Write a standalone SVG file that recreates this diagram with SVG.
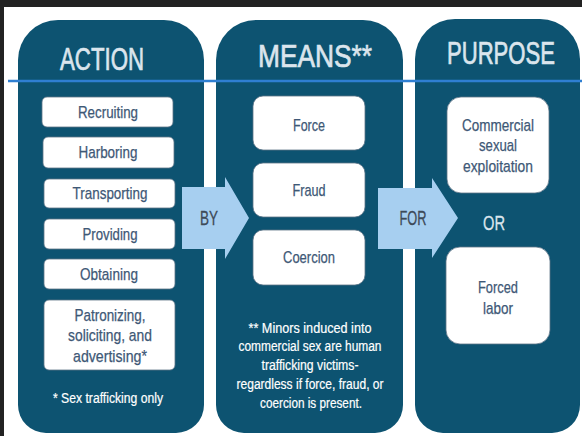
<svg xmlns="http://www.w3.org/2000/svg" width="582" height="436" viewBox="0 0 582 436">
<style>
.col{fill:#0d5371}
.box{fill:#ffffff;stroke:#5d7486;stroke-width:0.8}
.hdr{font-family:"Liberation Sans",Arial,sans-serif;font-size:32px;fill:#dbe5ed;stroke:#dbe5ed;stroke-width:0.7;text-anchor:middle}
.bt{font-family:"Liberation Sans",Arial,sans-serif;font-size:17px;fill:#3e5876;stroke:#3e5876;stroke-width:0.25;text-anchor:middle}
.wt{font-family:"Liberation Sans",Arial,sans-serif;font-size:14px;fill:#ffffff;stroke:#ffffff;stroke-width:0.2;text-anchor:middle}
.arr{fill:#a7cff0}
.at{font-family:"Liberation Sans",Arial,sans-serif;font-size:21px;fill:#3d4a58;stroke:#3d4a58;stroke-width:0.3;text-anchor:middle}
.or{font-family:"Liberation Sans",Arial,sans-serif;font-size:21px;fill:#dbe5ed;stroke:#dbe5ed;stroke-width:0.3;text-anchor:middle}
</style>
<rect x="0" y="0" width="582" height="436" fill="#ffffff"/>
<rect x="0" y="0" width="582" height="7" fill="#222222"/>
<rect x="0" y="0" width="4" height="436" fill="#222222"/>

<g id="col-action">
<path class="col" d="M18,60 A40,40 0 0 1 58,20 H164 A40,40 0 0 1 204,60 V405 A28,28 0 0 1 176,433 H46 A28,28 0 0 1 18,405 Z"/>
<text class="hdr" x="102" y="70" textLength="84" lengthAdjust="spacingAndGlyphs">ACTION</text>
</g>
<g id="col-means">
<path class="col" d="M216,60 A40,40 0 0 1 256,20 H363 A40,40 0 0 1 403,60 V405 A28,28 0 0 1 375,433 H244 A28,28 0 0 1 216,405 Z"/>
<text class="hdr" x="315" y="67" textLength="114" lengthAdjust="spacingAndGlyphs">MEANS**</text>
</g>
<g id="col-purpose">
<path class="col" d="M415,59 A40,40 0 0 1 455,19 H540 A40,40 0 0 1 580,59 V405 A28,28 0 0 1 552,433 H443 A28,28 0 0 1 415,405 Z"/>
<text class="hdr" x="501" y="64" textLength="108" lengthAdjust="spacingAndGlyphs" style="font-size:31px">PURPOSE</text>
</g>

<g id="divider">
<line x1="8" y1="81" x2="582" y2="81" stroke="#2f7fd2" stroke-width="2.5"/>
</g>

<g id="recruiting">
<rect class="box" x="42" y="97" width="131" height="30" rx="5"/>
<text class="bt" x="108" y="118" textLength="60" lengthAdjust="spacingAndGlyphs">Recruiting</text>
</g>
<g id="harboring">
<rect class="box" x="43" y="137" width="131" height="31" rx="5"/>
<text class="bt" x="108" y="158" textLength="59" lengthAdjust="spacingAndGlyphs">Harboring</text>
</g>
<g id="transporting">
<rect class="box" x="44" y="179" width="131" height="29" rx="5"/>
<text class="bt" x="110" y="199" textLength="75" lengthAdjust="spacingAndGlyphs">Transporting</text>
</g>
<g id="providing">
<rect class="box" x="44" y="219" width="131" height="30" rx="5"/>
<text class="bt" x="110" y="240" textLength="55" lengthAdjust="spacingAndGlyphs">Providing</text>
</g>
<g id="obtaining">
<rect class="box" x="44" y="259" width="131" height="30" rx="5"/>
<text class="bt" x="109" y="280" textLength="58" lengthAdjust="spacingAndGlyphs">Obtaining</text>
</g>
<g id="patronizing">
<rect class="box" x="44" y="300" width="131" height="70" rx="5"/>
<text class="bt" x="110" y="321" textLength="71" lengthAdjust="spacingAndGlyphs">Patronizing,</text>
<text class="bt" x="110" y="341" textLength="84" lengthAdjust="spacingAndGlyphs">soliciting, and</text>
<text class="bt" x="110" y="362" textLength="74" lengthAdjust="spacingAndGlyphs">advertising*</text>
</g>
<g id="sex-note">
<text class="wt" x="108" y="403" textLength="110" lengthAdjust="spacingAndGlyphs">* Sex trafficking only</text>
</g>

<g id="force">
<rect class="box" x="253" y="96" width="112" height="54" rx="10"/>
<text class="bt" x="309" y="131" textLength="32" lengthAdjust="spacingAndGlyphs">Force</text>
</g>
<g id="fraud">
<rect class="box" x="253" y="163" width="112" height="54" rx="10"/>
<text class="bt" x="309" y="196" textLength="33" lengthAdjust="spacingAndGlyphs">Fraud</text>
</g>
<g id="coercion">
<rect class="box" x="253" y="230" width="112" height="55" rx="10"/>
<text class="bt" x="309" y="263" textLength="52" lengthAdjust="spacingAndGlyphs">Coercion</text>
</g>
<g id="minors-note">
<text class="wt" x="310" y="333" textLength="123" lengthAdjust="spacingAndGlyphs">** Minors induced into</text>
<text class="wt" x="310" y="351" textLength="143" lengthAdjust="spacingAndGlyphs">commercial sex are human</text>
<text class="wt" x="310" y="370" textLength="97" lengthAdjust="spacingAndGlyphs">trafficking victims-</text>
<text class="wt" x="310" y="389" textLength="147" lengthAdjust="spacingAndGlyphs">regardless if force, fraud, or</text>
<text class="wt" x="311" y="408" textLength="102" lengthAdjust="spacingAndGlyphs">coercion is present.</text>
</g>

<g id="commercial">
<rect class="box" x="447" y="97" width="102" height="96" rx="14"/>
<text class="bt" x="498" y="131" textLength="72" lengthAdjust="spacingAndGlyphs">Commercial</text>
<text class="bt" x="498" y="151" textLength="38" lengthAdjust="spacingAndGlyphs">sexual</text>
<text class="bt" x="498" y="172" textLength="70" lengthAdjust="spacingAndGlyphs">exploitation</text>
</g>
<g id="or">
<text class="or" x="494" y="230" textLength="22" lengthAdjust="spacingAndGlyphs">OR</text>
</g>
<g id="forced-labor">
<rect class="box" x="446" y="247" width="104" height="97" rx="14"/>
<text class="bt" x="498" y="293" textLength="40" lengthAdjust="spacingAndGlyphs">Forced</text>
<text class="bt" x="498" y="314" textLength="30" lengthAdjust="spacingAndGlyphs">labor</text>
</g>

<g id="connectors">
<g id="by-arrow">
<polygon class="arr" points="182,187 225,187 225,177 249,218 225,259 225,249 182,249"/>
<text class="at" x="209" y="225" textLength="18" lengthAdjust="spacingAndGlyphs">BY</text>
</g>
<g id="for-arrow">
<polygon class="arr" points="378,188 432,188 432,178 458,218 432,258 432,249 378,249"/>
<text class="at" x="413" y="225" textLength="27" lengthAdjust="spacingAndGlyphs">FOR</text>
</g>
</g>
</svg>
